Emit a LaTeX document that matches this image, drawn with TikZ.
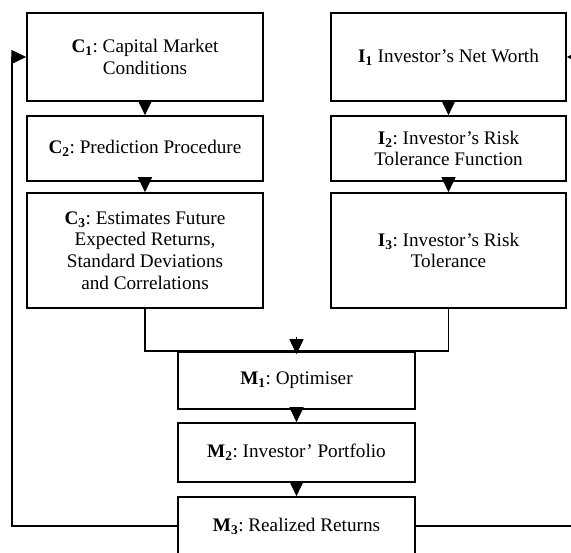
\documentclass[tikz,border=0pt]{standalone}
\usepackage{fontspec}
\setmainfont{Liberation Serif}
\usetikzlibrary{arrows.meta}

\begin{document}
\frenchspacing
\begin{tikzpicture}[x=1pt,y=-1pt,
  box/.style={draw,line width=1.5pt,rectangle,inner sep=0pt,align=center,
    font=\fontsize{19.2}{21.7}\selectfont},
  link/.style={line width=1.5pt,-{Triangle[length=15pt,width=14pt]}}]

\clip (0,0) rectangle (571,553);

\node[box,minimum width=236pt,minimum height=88pt]  (c1) at (145,57)    {\textbf{C\textsubscript{1}}: Capital Market\\Conditions};
\node[box,minimum width=236pt,minimum height=65pt]  (c2) at (145,148.5) {\textbf{C\textsubscript{2}}: Prediction Procedure};
\node[box,minimum width=236pt,minimum height=115pt] (c3) at (145,250.5) {\textbf{C\textsubscript{3}}: Estimates Future\\Expected Returns,\\Standard Deviations\\and Correlations};

\node[box,minimum width=235pt,minimum height=88pt]  (i1) at (448.5,57)    {\textbf{I\textsubscript{1}} Investor’s Net Worth};
\node[box,minimum width=235pt,minimum height=65pt]  (i2) at (448.5,148.5) {\textbf{I\textsubscript{2}}: Investor’s Risk\\Tolerance Function};
\node[box,minimum width=235pt,minimum height=115pt] (i3) at (448.5,250.5) {\textbf{I\textsubscript{3}}: Investor’s Risk\\Tolerance};

\node[box,minimum width=237pt,minimum height=57pt] (m1) at (296.5,380.5) {\textbf{M\textsubscript{1}}: Optimiser};
\node[box,minimum width=237pt,minimum height=59pt] (m2) at (296.5,452.5) {\textbf{M\textsubscript{2}}: Investor’ Portfolio};
\node[box,minimum width=237pt,minimum height=58pt] (m3) at (296.5,526)   {\textbf{M\textsubscript{3}}: Realized Returns};

\coordinate (fbl) at (12,0);
\coordinate (fbr) at (585,0);
\coordinate (top) at (296.5,337);

\foreach \a/\b in {c1/c2,c2/c3,i1/i2,i2/i3,m1/m2,m2/m3} {
  \draw[link] (\a) -- (\b);
}

\draw[line width=1.5pt] (c3.south) |- (i3.south |- m1.north) -- (i3.south);
\draw[link] (top) -- ([yshift=-3pt]m1.north);

\draw[link] (m3.west) -| (fbl |- c1.west) -- (c1.west);
\draw[link] (m3.east) -| (fbr |- i1.east) -- (i1.east);

\end{tikzpicture}
\end{document}
